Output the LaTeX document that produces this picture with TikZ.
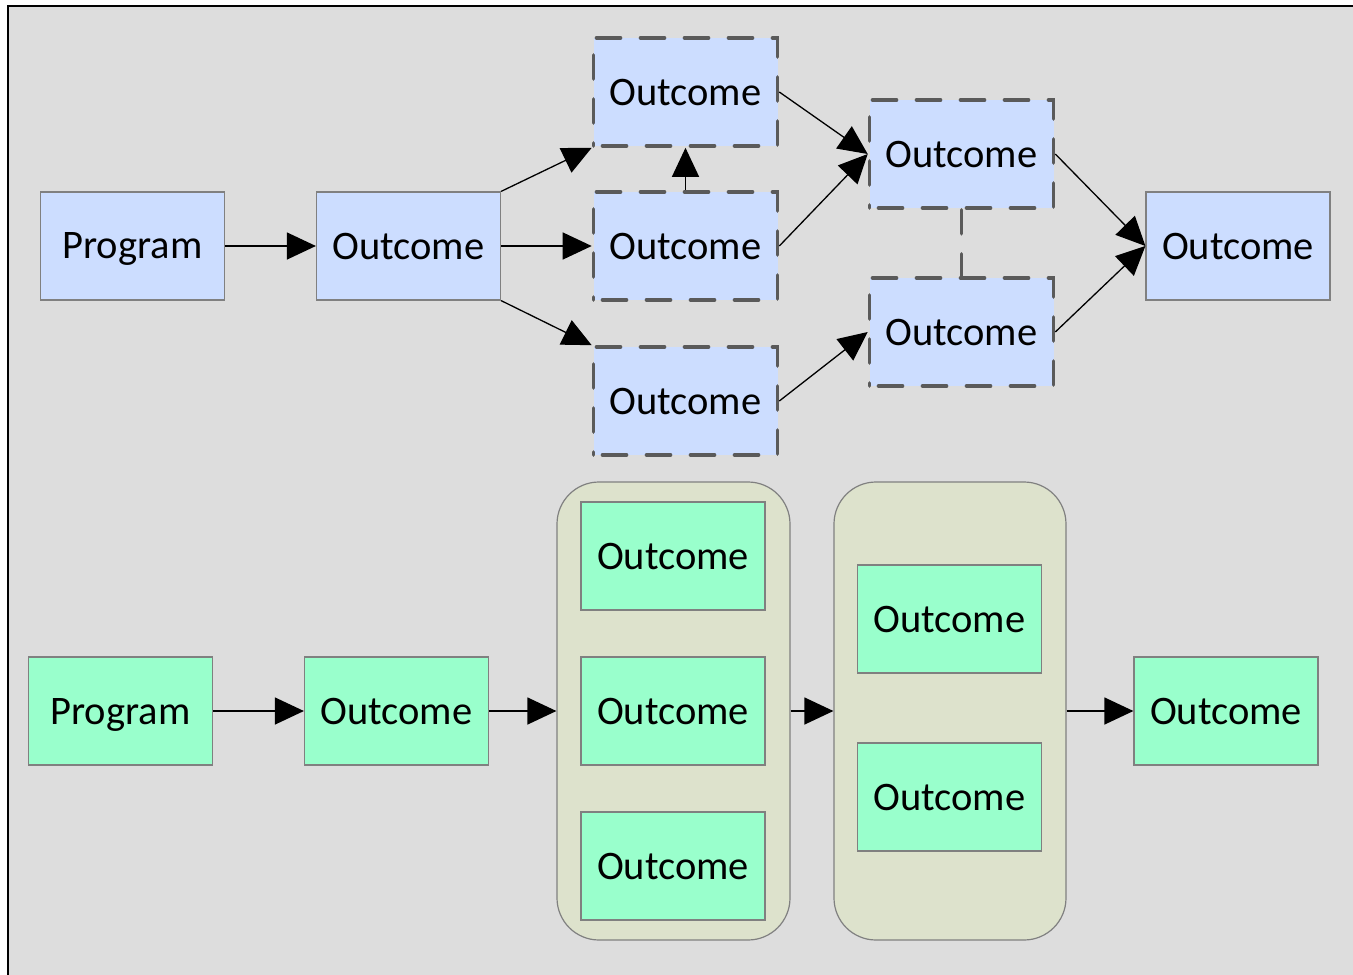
\documentclass[tikz,border=0pt]{standalone}
\usepackage{fontspec}
\setmainfont{Carlito}
\usetikzlibrary{arrows.meta}
\definecolor{bgray}{HTML}{DDDDDD}
\definecolor{bluefill}{HTML}{CCDDFF}
\definecolor{greenfill}{HTML}{99FFCC}
\definecolor{groupfill}{HTML}{DDE2CC}
\definecolor{edgegray}{HTML}{808080}
\definecolor{dashgray}{HTML}{5A5A5A}
\tikzset{
  box/.style={rectangle, minimum width=184pt, minimum height=108pt, inner sep=0pt,
    text depth=0pt, draw=edgegray, line width=1.2pt, font=\fontsize{40.5}{48}\selectfont},
  bluebox/.style={box, fill=bluefill},
  greenbox/.style={box, fill=greenfill},
  dashbox/.style={box, fill=bluefill, draw=dashgray, line width=3.6pt, line cap=round,
    dash pattern=on 24pt off 20pt, dash phase=-9pt},
  group/.style={rectangle, rounded corners=42pt, inner sep=0pt, fill=groupfill,
    draw=edgegray, line width=1.2pt},
  link/.style={draw=black, line width=1.3pt, -{Triangle[length=29pt,width=27pt]}},
  dashlink/.style={draw=dashgray, line width=3.6pt, line cap=round, dash pattern=on 24pt off 20pt}
}
\begin{document}
\begin{tikzpicture}[x=1pt,y=-1pt]
  \useasboundingbox (0,0) rectangle (1353,975);
  % canvas with frame
  \begin{scope}
    \clip (0,0) rectangle (1353,975);
    \draw[fill=bgray, draw=black, line width=2pt] (7.5,5.5) rectangle (1370,990);
  \end{scope}

  % upper chain: program with alternative outcome paths
  \node[bluebox] (p1) at (132.5,246) {Program};
  \node[bluebox] (o1) at (408.5,246) {Outcome};
  \node[dashbox] (a1) at (685.5,92) {Outcome};
  \node[dashbox] (a2) at (685.5,246) {Outcome};
  \node[dashbox] (a3) at (685.5,401) {Outcome};
  \node[dashbox] (b1) at (961.5,154) {Outcome};
  \node[dashbox] (b2) at (961.5,332) {Outcome};
  \node[bluebox] (f1) at (1238,246) {Outcome};

  \draw[link] (p1.east) -- (o1.west);
  \draw[link] (o1.north east) -- (a1.south west);
  \draw[link] (o1.east) -- (a2.west);
  \draw[link] (o1.south east) -- (a3.north west);
  \draw[link] (a2.north) -- (a1.south);
  \draw[link] (a1.east) -- (b1.west);
  \draw[link] (a2.east) -- (b1.west);
  \draw[link] (a3.east) -- (b2.west);
  \draw[link] (b1.east) -- (f1.west);
  \draw[link] (b2.east) -- (f1.west);
  \draw[dashlink] (b1.south) -- (b2.north);

  % lower chain: grouped outcomes
  \node[group, minimum width=233pt, minimum height=458pt] (g1) at (673.5,711) {};
  \node[group, minimum width=232pt, minimum height=458pt] (g2) at (950,711) {};
  \node[greenbox] (p2) at (120.5,711) {Program};
  \node[greenbox] (o2) at (396.5,711) {Outcome};
  \node[greenbox] (c1) at (673,556) {Outcome};
  \node[greenbox] (c2) at (673,711) {Outcome};
  \node[greenbox] (c3) at (673,866) {Outcome};
  \node[greenbox] (d1) at (949.5,619) {Outcome};
  \node[greenbox] (d2) at (949.5,797) {Outcome};
  \node[greenbox] (f2) at (1226,711) {Outcome};

  \draw[link] (p2.east) -- (o2.west);
  \draw[link] (o2.east) -- (g1.west);
  \draw[link] (g1.east) -- (g2.west);
  \draw[link] (g2.east) -- (f2.west);
\end{tikzpicture}
\end{document}
